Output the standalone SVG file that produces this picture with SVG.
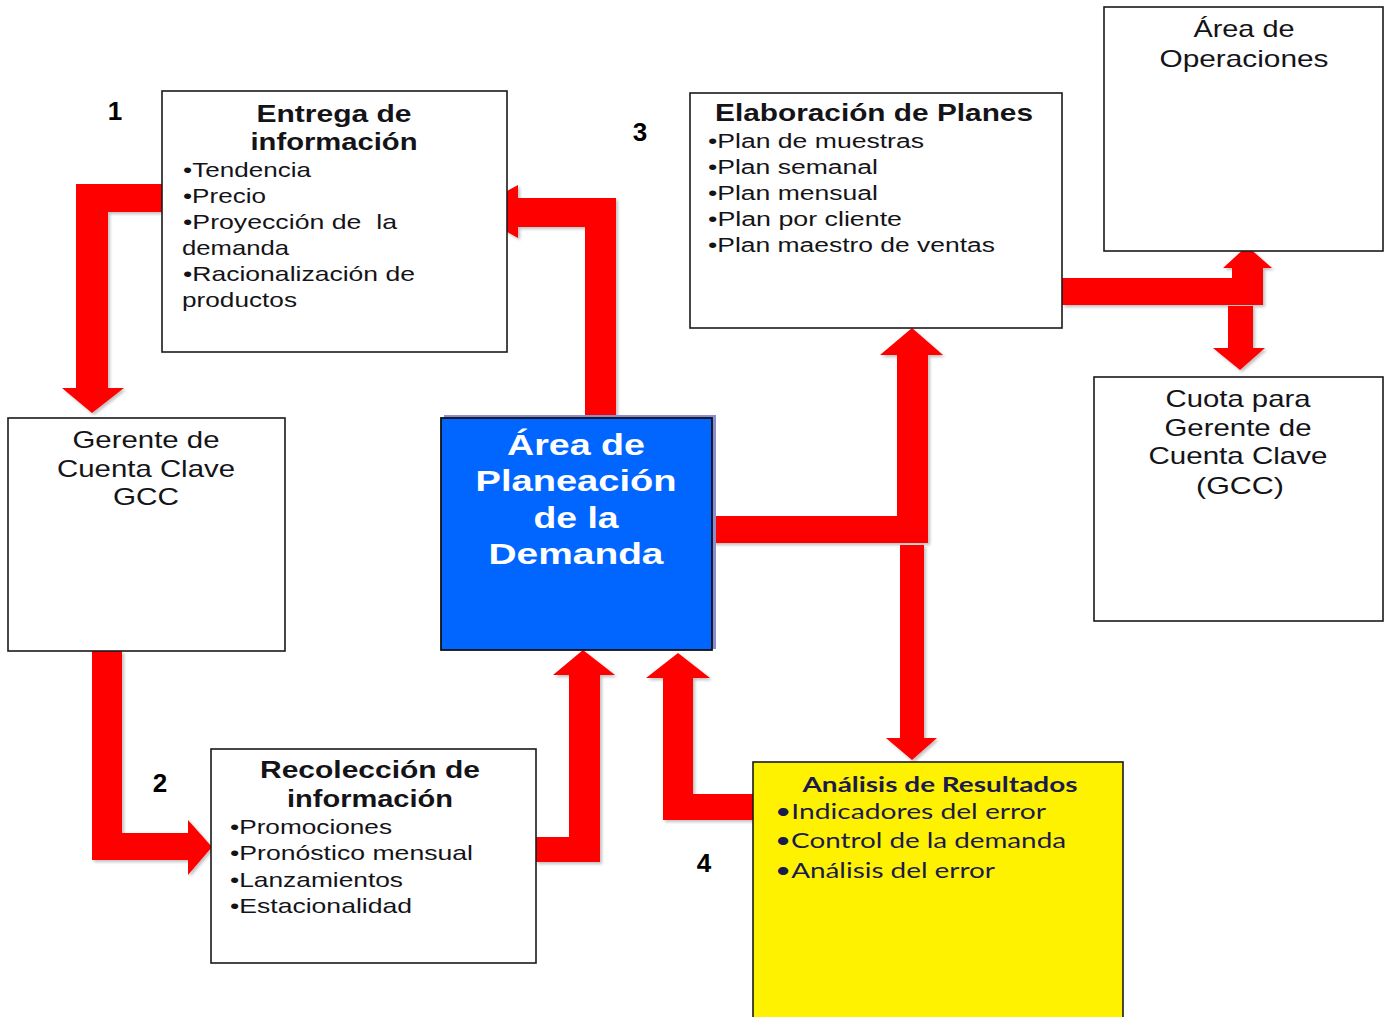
<svg xmlns="http://www.w3.org/2000/svg" width="1384" height="1017" viewBox="0 0 1384 1017">
<defs>
<filter id="sh" x="-10%" y="-10%" width="130%" height="130%">
<feDropShadow dx="2" dy="2" stdDeviation="1.5" flood-color="#000" flood-opacity="0.25"/>
</filter>
</defs>
<style>
.box{fill:#fff;stroke:#1a1a1a;stroke-width:1.6}
.arr{fill:#ff0000;filter:url(#sh)}
.t{font-family:"Liberation Sans",Arial,sans-serif;fill:#141418}
.b{font-weight:bold}
.c{text-anchor:middle}
.s21{font-size:21px}
.s20{font-size:20px}
.s24{font-size:24px}
.w{fill:#fff;font-size:29px;font-weight:bold;text-anchor:middle;font-family:"Liberation Sans",Arial,sans-serif}
.num{font-family:"Liberation Sans",Arial,sans-serif;font-weight:bold;font-size:26px;fill:#000;text-anchor:middle}
.an{font-family:Lato,"Open Sans",sans-serif;fill:#1b1b4b;font-size:21px}
</style>
<rect width="1384" height="1017" fill="#fff"/>
<g id="connectors">
<polygon class="arr" points="162,184 76,184 76,388 62,388 92,413 124,388 108,388 108,212 162,212"/>
<polygon class="arr" points="585,418 585,227 518,227 518,238 470,211 518,185 518,198 616,198 616,418"/>
<polygon class="arr" points="712,516 897,516 897,355 880,355 912,328 943,355 928,355 928,543 712,543"/>
<polygon class="arr" points="900,545 924,545 924,738 937,738 912,760 886,738 900,738"/>
<polygon class="arr" points="1062,278 1232,278 1232,268 1223,268 1247,246 1272,268 1263,268 1263,305 1062,305"/>
<polygon class="arr" points="1228,306 1253,306 1253,348 1265,348 1240,370 1213,348 1228,348"/>
<polygon class="arr" points="92,651 122,651 122,833 188,833 188,820 212,847 188,875 188,860 92,860"/>
<polygon class="arr" points="536,837 569,837 569,675 553,675 583,650 615,675 600,675 600,862 536,862"/>
<polygon class="arr" points="753,794 693,794 693,678 710,678 678,653 646,678 663,678 663,820 753,820"/>
</g>
<g id="n1">
<rect class="box" x="162" y="91" width="345" height="261"/>
<text class="t b c s24" x="334" y="122" textLength="155" lengthAdjust="spacingAndGlyphs">Entrega de</text>
<text class="t b c s24" x="334" y="150" textLength="167" lengthAdjust="spacingAndGlyphs">información</text>
<text class="t s21" x="183" y="177" textLength="128" lengthAdjust="spacingAndGlyphs">•Tendencia</text>
<text class="t s21" x="183" y="203" textLength="83" lengthAdjust="spacingAndGlyphs">•Precio</text>
<text class="t s21" x="183" y="229" textLength="214" lengthAdjust="spacingAndGlyphs" xml:space="preserve">•Proyección de  la</text>
<text class="t s21" x="182" y="255" textLength="107" lengthAdjust="spacingAndGlyphs">demanda</text>
<text class="t s21" x="183" y="281" textLength="232" lengthAdjust="spacingAndGlyphs">•Racionalización de</text>
<text class="t s21" x="182" y="307" textLength="115" lengthAdjust="spacingAndGlyphs">productos</text>
</g>
<g id="n-gerente">
<rect class="box" x="8" y="418" width="277" height="233"/>
<text class="t c s24" x="146" y="448" textLength="147" lengthAdjust="spacingAndGlyphs">Gerente de</text>
<text class="t c s24" x="146" y="477" textLength="178" lengthAdjust="spacingAndGlyphs">Cuenta Clave</text>
<text class="t c s24" x="146" y="505" textLength="66" lengthAdjust="spacingAndGlyphs">GCC</text>
</g>
<g id="n-central">
<rect x="444" y="415" width="272" height="234" fill="#8c8cd0"/>
<rect x="441" y="418" width="271" height="232" fill="#0066ff" stroke="#111" stroke-width="1.8"/>
<text class="w" x="576" y="455" textLength="138" lengthAdjust="spacingAndGlyphs">Área de</text>
<text class="w" x="576" y="491" textLength="201" lengthAdjust="spacingAndGlyphs">Planeación</text>
<text class="w" x="576" y="528" textLength="85" lengthAdjust="spacingAndGlyphs">de la</text>
<text class="w" x="576" y="564" textLength="175" lengthAdjust="spacingAndGlyphs">Demanda</text>
</g>
<g id="n3">
<rect class="box" x="690" y="93" width="372" height="235"/>
<text class="t b s24" x="715" y="121" textLength="318" lengthAdjust="spacingAndGlyphs">Elaboración de Planes</text>
<text class="t s20" x="708" y="148" textLength="216" lengthAdjust="spacingAndGlyphs">•Plan de muestras</text>
<text class="t s20" x="708" y="174" textLength="170" lengthAdjust="spacingAndGlyphs">•Plan semanal</text>
<text class="t s20" x="708" y="200" textLength="170" lengthAdjust="spacingAndGlyphs">•Plan mensual</text>
<text class="t s20" x="708" y="226" textLength="194" lengthAdjust="spacingAndGlyphs">•Plan por cliente</text>
<text class="t s20" x="708" y="252" textLength="287" lengthAdjust="spacingAndGlyphs">•Plan maestro de ventas</text>
</g>
<g id="n-operaciones">
<rect class="box" x="1104" y="7" width="279" height="244"/>
<text class="t c s24" x="1244" y="37" textLength="101" lengthAdjust="spacingAndGlyphs">Área de</text>
<text class="t c s24" x="1244" y="67" textLength="169" lengthAdjust="spacingAndGlyphs">Operaciones</text>
</g>
<g id="n-cuota">
<rect class="box" x="1094" y="377" width="289" height="244"/>
<text class="t c s24" x="1238" y="407" textLength="145" lengthAdjust="spacingAndGlyphs">Cuota para</text>
<text class="t c s24" x="1238" y="436" textLength="147" lengthAdjust="spacingAndGlyphs">Gerente de</text>
<text class="t c s24" x="1238" y="464" textLength="179" lengthAdjust="spacingAndGlyphs">Cuenta Clave</text>
<text class="t c s24" x="1240" y="494" textLength="88" lengthAdjust="spacingAndGlyphs">(GCC)</text>
</g>
<g id="n2">
<rect class="box" x="211" y="749" width="325" height="214"/>
<text class="t b c s24" x="370" y="778" textLength="220" lengthAdjust="spacingAndGlyphs">Recolección de</text>
<text class="t b c s24" x="370" y="807" textLength="166" lengthAdjust="spacingAndGlyphs">información</text>
<text class="t s21" x="230" y="834" textLength="162" lengthAdjust="spacingAndGlyphs">•Promociones</text>
<text class="t s21" x="230" y="860" textLength="243" lengthAdjust="spacingAndGlyphs">•Pronóstico mensual</text>
<text class="t s21" x="230" y="887" textLength="173" lengthAdjust="spacingAndGlyphs">•Lanzamientos</text>
<text class="t s21" x="230" y="913" textLength="182" lengthAdjust="spacingAndGlyphs">•Estacionalidad</text>
</g>
<g id="n4">
<rect x="753" y="762" width="370" height="262" fill="#fff200" stroke="#1a1a1a" stroke-width="1.6"/>
<text class="an c" x="940" y="792" font-weight="bold" textLength="275" lengthAdjust="spacingAndGlyphs">Análisis de Resultados</text>
<text class="an" x="775" y="819" textLength="271" lengthAdjust="spacingAndGlyphs">•Indicadores del error</text>
<text class="an" x="775" y="848" textLength="291" lengthAdjust="spacingAndGlyphs">•Control de la demanda</text>
<text class="an" x="775" y="878" textLength="220" lengthAdjust="spacingAndGlyphs">•Análisis del error</text>
</g>
<g id="numbers">
<text class="num" x="115" y="120">1</text>
<text class="num" x="160" y="792">2</text>
<text class="num" x="640" y="141">3</text>
<text class="num" x="704" y="872">4</text>
</g>
</svg>
